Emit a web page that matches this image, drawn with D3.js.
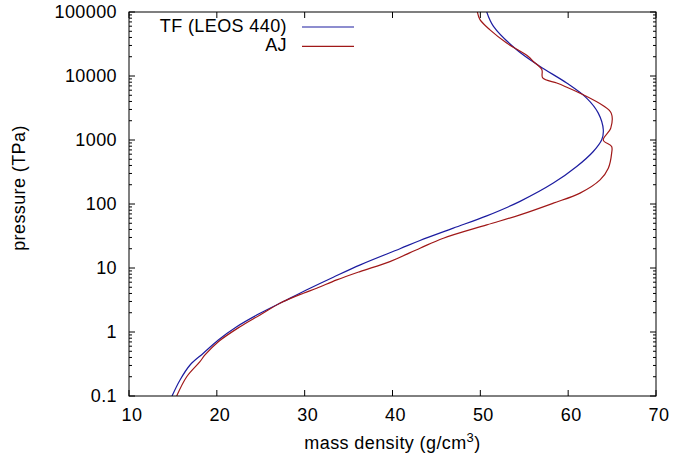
<!DOCTYPE html>
<html>
<head>
<meta charset="utf-8">
<script src="https://cdn.jsdelivr.net/npm/d3@7"></script>
<style>
    body { margin: 0; background: #fff; }
    svg text { font-family: "Liberation Sans", Arial, Helvetica, sans-serif; font-size: 18px; letter-spacing: 0.4px; fill: #000; }
</style>
</head>
<body>
<div class="densityChart"></div>
<script>
// series: mass density (g/cm3) against pressure (TPa)
const tfDensity = [14.9, 15.81, 16.95, 18.46, 20.17, 22.26, 24.92, 27.57, 30.61, 33.26, 36.33, 40.85, 43.13, 46.92, 50.73, 54.52, 58.31, 60.97, 62.86, 63.82, 64.0, 63.43, 62.1, 59.83, 56.8, 54.14, 51.5, 50.73];
const tfPressure = [0.1, 0.178, 0.305, 0.466, 0.751, 1.21, 1.96, 2.99, 4.83, 7.18, 11.2, 20.0, 26.9, 41.9, 65.3, 110, 212, 385, 661, 1007, 1445, 2630, 4520, 7760, 14100, 25700, 59600, 100000];

const ajDensity = [15.43, 16.57, 18.08, 18.65, 20.17, 22.64, 24.92, 27.19, 29.85, 31.37, 33.65, 36.3, 39.7, 43.13, 45.79, 50.73, 54.52, 58.31, 61.35, 63.63, 64.57, 64.95, 64.95, 64.0, 64.85, 64.9, 64.0, 61.73, 59.64, 58.7, 57.1, 57.0, 56.0, 55.46, 53.0, 51.1, 49.96, 49.66];
const ajPressure = [0.1, 0.2, 0.344, 0.438, 0.706, 1.21, 1.85, 2.82, 4.04, 4.83, 6.51, 8.79, 12.6, 20.4, 29.2, 47.2, 67.6, 103, 148, 238, 363, 624, 791, 1000, 1535, 2630, 3430, 5090, 6870, 7760, 9330, 12600, 17000, 20200, 32700, 52500, 75900, 100000];

const seriesNames = ["TF (LEOS 440)", "AJ"];
const seriesColours = ["#1c1ca0", "#a01818"];

const xTicks = [10, 20, 30, 40, 50, 60, 70];
const yTicks = [0.1, 1, 10, 100, 1000, 10000, 100000];
const yTickLabels = ["0.1", "1", "10", "100", "1000", "10000", "100000"];


function _drawDensityChart()
{
    const width = 673, height = 456;
    const margin = { top: 12, right: 17, bottom: 60, left: 129 };
    const innerWidth = width - margin.left - margin.right;
    const innerHeight = height - margin.top - margin.bottom;

    let svg = d3.select(".densityChart").append("svg")
                .attr("width", width)
                .attr("height", height);

    let x = d3.scaleLinear().domain([10, 70]).range([margin.left, margin.left + innerWidth]);
    let y = d3.scaleLog().domain([0.1, 100000]).range([margin.top + innerHeight, margin.top]);

    const left = x.range()[0], right = x.range()[1];
    const top = y.range()[1], bottom = y.range()[0];

    let axes = svg.append("g").attr("stroke", "#000").attr("stroke-width", 1);

    // x ticks, mirrored on the top edge
    xTicks.forEach(t => {
        axes.append("line").attr("x1", x(t)).attr("x2", x(t)).attr("y1", bottom).attr("y2", bottom - 6);
        axes.append("line").attr("x1", x(t)).attr("x2", x(t)).attr("y1", top).attr("y2", top + 6);
    });

    // y major and minor (log) ticks, mirrored on the right edge
    yTicks.forEach((t, i) => {
        axes.append("line").attr("x1", left).attr("x2", left + 6).attr("y1", y(t)).attr("y2", y(t));
        axes.append("line").attr("x1", right).attr("x2", right - 6).attr("y1", y(t)).attr("y2", y(t));
        if( i < yTicks.length - 1 )
        {
            d3.range(2, 10).forEach(m => {
                const v = t * m;
                axes.append("line").attr("x1", left).attr("x2", left + 3).attr("y1", y(v)).attr("y2", y(v));
                axes.append("line").attr("x1", right).attr("x2", right - 3).attr("y1", y(v)).attr("y2", y(v));
            });
        }
    });

    // tick labels
    svg.append("g").selectAll("text")
        .data(xTicks)
        .enter().append("text")
            .attr("x", d => x(d) + 3)
            .attr("y", bottom + 25)
            .attr("text-anchor", "middle")
            .text(d => d);

    svg.append("g").selectAll("text")
        .data(yTicks)
        .enter().append("text")
            .attr("x", left - 12)
            .attr("y", d => y(d))
            .attr("dy", "0.36em")
            .attr("text-anchor", "end")
            .text((d, i) => yTickLabels[i]);

    // axis titles
    let xTitle = svg.append("text")
        .attr("x", (left + right) / 2)
        .attr("y", 449)
        .attr("text-anchor", "middle");
    xTitle.append("tspan").text("mass density (g/cm");
    xTitle.append("tspan").attr("dy", -7).style("font-size", "13px").text("3");
    xTitle.append("tspan").attr("dy", 7).text(")");

    svg.append("text")
        .attr("transform", "translate(25,188) rotate(-90)")
        .attr("text-anchor", "middle")
        .text("pressure (TPa)");

    // curves
    let plot = svg.append("g");
    plot.append("clipPath").attr("id", "plotClip")
        .append("rect").attr("x", left).attr("y", top).attr("width", innerWidth).attr("height", innerHeight);

    let curveLine = d3.line()
        .x(d => x(d[0]))
        .y(d => y(d[1]))
        .curve(d3.curveCatmullRom.alpha(0.5));

    plot.append("path")
        .attr("clip-path", "url(#plotClip)")
        .attr("d", curveLine(d3.zip(tfDensity, tfPressure)))
        .attr("fill", "none")
        .attr("stroke", seriesColours[0])
        .attr("stroke-width", 1.2);

    plot.append("path")
        .attr("clip-path", "url(#plotClip)")
        .attr("d", curveLine(d3.zip(ajDensity, ajPressure)))
        .attr("fill", "none")
        .attr("stroke", seriesColours[1])
        .attr("stroke-width", 1.2);

    // legend
    let legend = svg.append("g");
    seriesNames.forEach((name, i) => {
        const ly = 27 + i * 19.3;
        legend.append("text")
            .attr("x", 287)
            .attr("y", ly - 1.5)
            .attr("dy", "0.36em")
            .attr("text-anchor", "end")
            .text(name);
        legend.append("line")
            .attr("x1", 302).attr("x2", 354)
            .attr("y1", ly).attr("y2", ly)
            .attr("stroke", seriesColours[i])
            .attr("stroke-width", 1.2);
    });

    // frame
    svg.append("rect")
        .attr("x", left).attr("y", top)
        .attr("width", innerWidth).attr("height", innerHeight)
        .attr("fill", "none")
        .attr("stroke", "#000")
        .attr("stroke-width", 1);
}

_drawDensityChart();
</script>
</body>
</html>
